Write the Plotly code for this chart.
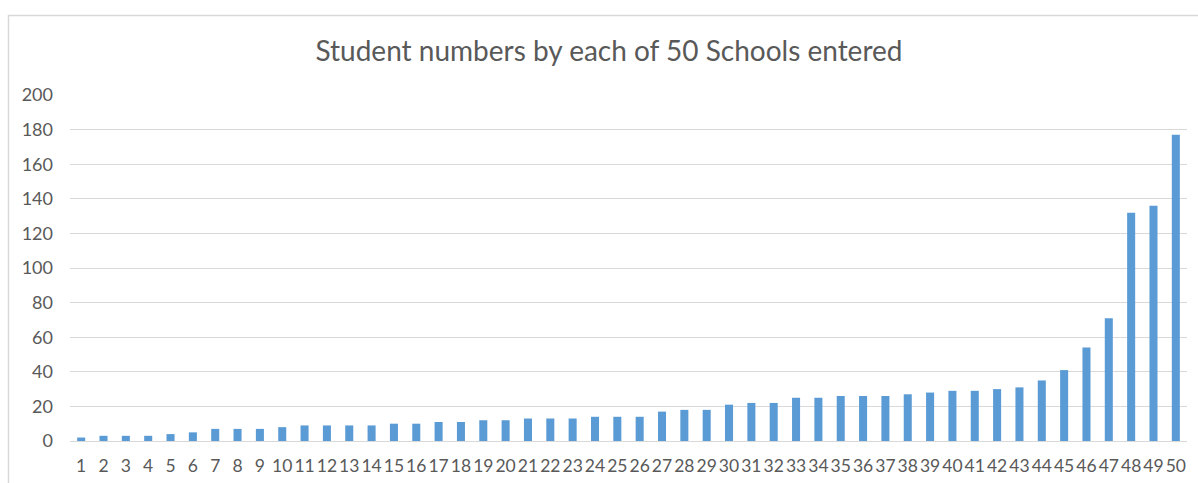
import plotly.graph_objects as go

schools = [str(i) for i in range(1, 51)]
students = [2, 3, 3, 3, 4, 5, 7, 7, 7, 8,
            9, 9, 9, 9, 10, 10, 11, 11, 12, 12,
            13, 13, 13, 14, 14, 14, 17, 18, 18, 21,
            22, 22, 25, 25, 26, 26, 26, 27, 28, 29,
            29, 30, 31, 35, 41, 54, 71, 132, 136, 177]
y_ticks = [0, 20, 40, 60, 80, 100, 120, 140, 160, 180, 200]

W, H = 1198, 483
L, R, T, B = 70, 11, 95, 42
pw, ph = W - L - R, H - T - B

fig = go.Figure(go.Bar(x=schools, y=students, marker=dict(color="#5B9BD5", line=dict(width=0)), width=0.36))

def px_to_paper_x(px):
    return (px - L) / pw

def px_to_paper_y(py):
    return 1 - (py - T) / ph

fig.update_layout(
    width=W, height=H,
    margin=dict(l=L, r=R, t=T, b=B),
    paper_bgcolor="white", plot_bgcolor="white",
    font=dict(family="Lato, Carlito, Calibri, sans-serif", color="#595959"),
    title=dict(text="Student numbers by each of 50 Schools entered",
               x=609 / W, xref="container", xanchor="center", y=1 - 51 / H, yanchor="middle",
               font=dict(size=28, color="#595959")),
    xaxis=dict(type="category", tickfont=dict(size=17.5, color="#595959"), showgrid=False,
               showline=False, ticks="", zeroline=False, ticklabelstandoff=12,
               tickangle=0, automargin=False),
    yaxis=dict(range=[0, 200], tickvals=y_ticks, tickfont=dict(size=18, color="#595959"),
               gridcolor="#D9D9D9", gridwidth=1, zeroline=True, zerolinecolor="#D9D9D9",
               zerolinewidth=1, showline=False, ticks="", ticklabelstandoff=16,
               automargin=False),
    showlegend=False,
    shapes=[dict(type="rect", xref="paper", yref="paper",
                 x0=px_to_paper_x(8.5), x1=px_to_paper_x(1210),
                 y0=px_to_paper_y(500), y1=px_to_paper_y(15.5),
                 line=dict(color="#D9D9D9", width=1.5), fillcolor="rgba(0,0,0,0)", layer="below")],
)

fig.write_html("out.html")
